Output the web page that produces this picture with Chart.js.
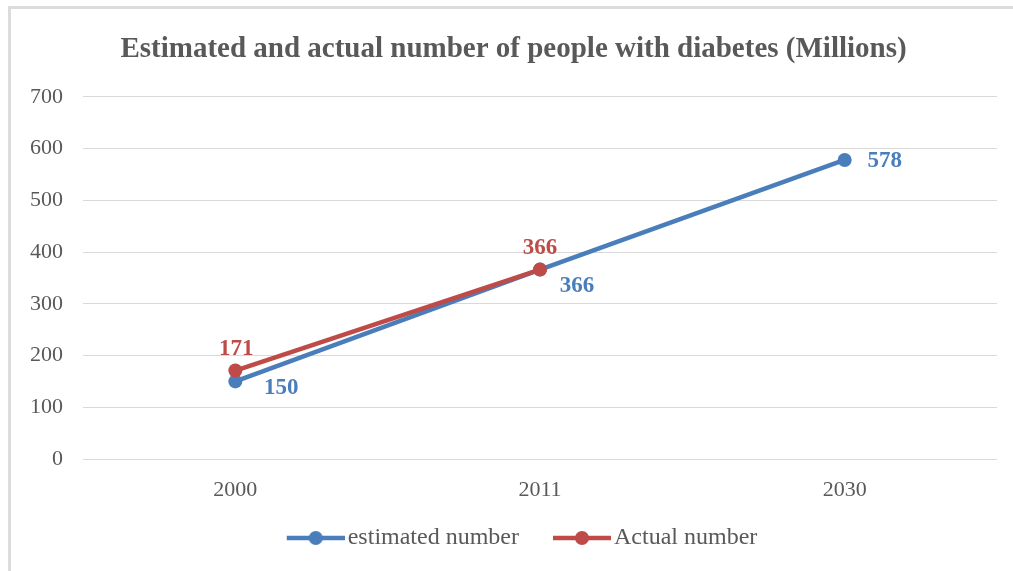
<!DOCTYPE html>
<html>
<head>
<meta charset="utf-8">
<script src="https://cdn.jsdelivr.net/npm/chart.js@4/dist/chart.umd.min.js"></script>
<style>
  html, body { margin: 0; padding: 0; background: #fff; }
  #wrap { position: relative; width: 1013px; height: 571px; }
  #frame { position: absolute; left: 8px; top: 6px; right: 0; bottom: 0;
           border-top: 3px solid #dcdcdc; border-left: 3px solid #dcdcdc; pointer-events: none; }
  canvas { position: absolute; left: 0; top: 0; }
</style>
</head>
<body>
<div id="wrap">
  <canvas id="chart" width="1013" height="571"></canvas>
  <div id="frame"></div>
</div>
<script>
// chart data
var YEARS = ["2000", "2011", "2030"];
var ESTIMATED = [150, 366, 578];
var ACTUAL = [171, 366, null];
var Y_TICKS = [0, 100, 200, 300, 400, 500, 600, 700];

var BLUE = "#4a7ebb";
var RED = "#be4b48";
var GREY = "#595959";
var SERIF = "'Liberation Serif', 'Times New Roman', serif";

// label placement per dataset (dx, dy from the point)
var EST_LABEL_OFFSETS = [[46, 7], [37, 16], [40, 1]];
var ACT_LABEL_OFFSETS = [[1, -21], [0, -22], [0, 0]];

var LEGEND_BOX = 66;
var LEGEND_FONT = 24;

/*
  legendSwatch : line with a dot in the middle, like the Office legend
  the canvas is wider than the legend box so the line sits close to the text
*/
function legendSwatch (color, boxWidth){
  var w = boxWidth + LEGEND_FONT - 6;
  var c = document.createElement("canvas");
  c.width = w;
  c.height = 16;
  var g = c.getContext("2d");
  g.strokeStyle = color;
  g.lineWidth = 4.5;
  g.beginPath();
  g.moveTo(w - 58, 8);
  g.lineTo(w, 8);
  g.stroke();
  g.fillStyle = color;
  g.beginPath();
  g.arc(w - 29, 8, 7, 0, Math.PI * 2);
  g.fill();
  return c;
}

var valueLabels = {
  id: "valueLabels",
  afterDatasetsDraw: function (chart){
    var ctx = chart.ctx;
    ctx.save();
    ctx.font = "bold 23px " + SERIF;
    ctx.textAlign = "center";
    ctx.textBaseline = "middle";
    chart.data.datasets.forEach(function (ds, i){
      var meta = chart.getDatasetMeta(i);
      meta.data.forEach(function (pt, j){
        var v = ds.data[j];
        if (v === null || v === undefined) return;
        var off = ds.labelOffsets[j];
        ctx.fillStyle = ds.borderColor;
        ctx.fillText(String(v), pt.x + off[0], pt.y + off[1]);
      });
    });
    ctx.restore();
  }
};

var ctx = document.getElementById("chart").getContext("2d");
var chart = new Chart(ctx, {
  type: "line",
  data: {
    labels: YEARS,
    datasets: [
      {
        label: "estimated number",
        data: ESTIMATED,
        borderColor: BLUE,
        backgroundColor: BLUE,
        borderWidth: 4.5,
        pointRadius: 7,
        pointHoverRadius: 7,
        pointBorderWidth: 0,
        tension: 0,
        order: 1,
        labelOffsets: EST_LABEL_OFFSETS,
        swatch: legendSwatch(BLUE, LEGEND_BOX)
      },
      {
        label: "Actual number",
        data: ACTUAL,
        borderColor: RED,
        backgroundColor: RED,
        borderWidth: 4.5,
        pointRadius: 7,
        pointHoverRadius: 7,
        pointBorderWidth: 0,
        tension: 0,
        order: 0,
        labelOffsets: ACT_LABEL_OFFSETS,
        swatch: legendSwatch(RED, LEGEND_BOX)
      }
    ]
  },
  options: {
    responsive: false,
    animation: false,
    events: [],
    layout: { padding: { top: 12, left: 30, right: 16, bottom: 11 } },
    plugins: {
      title: {
        display: true,
        text: "Estimated and actual number of people with diabetes (Millions)",
        color: GREY,
        font: { family: SERIF, size: 29, weight: "bold" },
        padding: { top: 20, bottom: 30 }
      },
      legend: {
        position: "bottom",
        labels: {
          usePointStyle: true,
          pointStyleWidth: LEGEND_BOX,
          padding: 17,
          color: GREY,
          font: { family: SERIF, size: LEGEND_FONT },
          sort: function (a, b){ return a.datasetIndex - b.datasetIndex; },
          generateLabels: function (chart){
            var items = Chart.defaults.plugins.legend.labels.generateLabels(chart);
            items.forEach(function (it){
              it.pointStyle = chart.data.datasets[it.datasetIndex].swatch;
            });
            return items;
          }
        }
      },
      tooltip: { enabled: false }
    },
    scales: {
      x: {
        offset: true,
        grid: { display: false, drawTicks: false },
        border: { display: false },
        ticks: { color: GREY, padding: 18, font: { family: SERIF, size: 22 } },
        afterFit: function (scale){ scale.height = 50; }
      },
      y: {
        min: 0,
        max: 700,
        afterBuildTicks: function (scale){
          scale.ticks = Y_TICKS.map(function (v){ return { value: v }; });
        },
        grid: { color: "#d9d9d9", lineWidth: 1, drawTicks: false },
        border: { display: false },
        ticks: { color: GREY, padding: 20, font: { family: SERIF, size: 22 } },
        afterFit: function (scale){ scale.width = 53; }
      }
    }
  },
  plugins: [valueLabels]
});
</script>
</body>
</html>
